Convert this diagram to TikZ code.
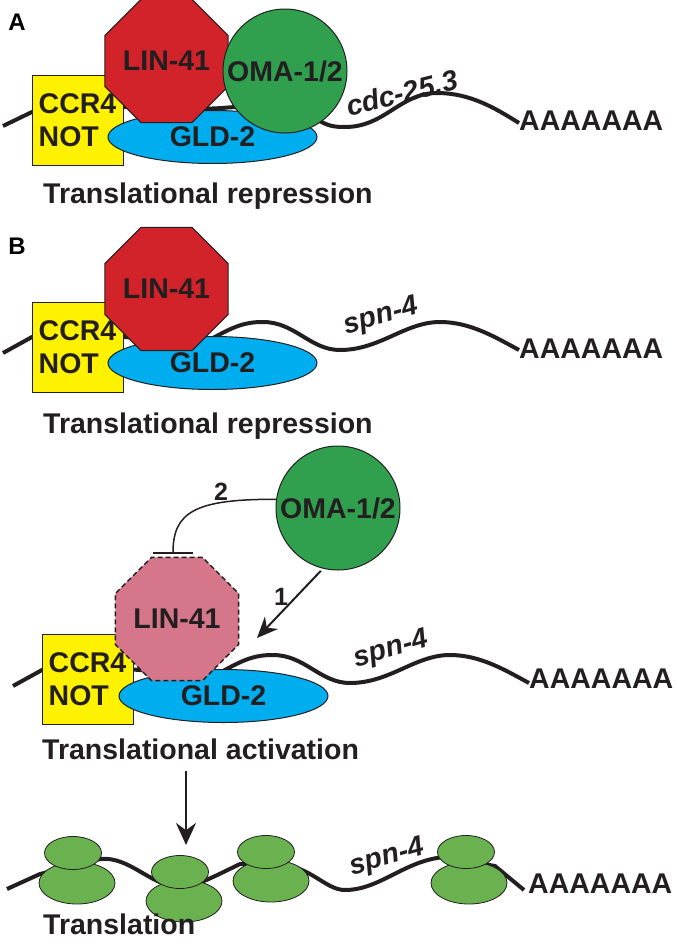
\documentclass[tikz,border=0pt]{standalone}
\usepackage{fontspec}
\setmainfont{Liberation Sans}
\usetikzlibrary{positioning}
\usetikzlibrary{arrows.meta}
\usetikzlibrary{shapes.geometric}

\definecolor{ink}{HTML}{231F20}
\definecolor{ccryellow}{HTML}{FFF200}
\definecolor{linred}{HTML}{D2232A}
\definecolor{linpink}{HTML}{D6768A}
\definecolor{omagreen}{HTML}{30A04F}
\definecolor{gldblue}{HTML}{00AEEF}
\definecolor{ribogreen}{HTML}{6AB24F}

\tikzset{
    lbl/.style={font=\fontsize{28.5}{33}\selectfont\bfseries, text=ink, inner sep=0pt},
    gene/.style={lbl, font=\fontsize{28.5}{33}\selectfont\bfseries\itshape},
    panel/.style={lbl, font=\fontsize{24}{28}\selectfont\bfseries, text=black},
    numlbl/.style={lbl, font=\fontsize{25}{28}\selectfont\bfseries},
    ccrbox/.style={lbl, draw=ink, line width=1pt, fill=ccryellow, minimum width=91pt, minimum height=90pt, align=left},
    gld/.style={lbl, ellipse, draw=ink, line width=1pt, fill=gldblue, minimum width=209pt, minimum height=53pt},
    lin/.style={lbl, regular polygon, regular polygon sides=8, draw=ink, line width=1pt, fill=linred, minimum size=129pt},
    linoff/.style={lin, fill=linpink, line width=1.5pt, dash pattern=on 5pt off 3pt},
    oma/.style={lbl, circle, draw=ink, line width=1pt, fill=omagreen, minimum size=124pt},
    ribotop/.style={ellipse, draw=ink, line width=0.8pt, fill=ribogreen, inner sep=0pt, minimum width=57pt, minimum height=33pt},
    ribobot/.style={ribotop, minimum width=76pt, minimum height=42pt},
    mrna/.style={draw=ink, line width=4pt},
    act/.style={draw=ink, line width=2pt, -{Stealth[length=21pt, width=18pt]}},
    inhib/.style={draw=ink, line width=1.5pt, -{Bar[width=40pt, line width=2pt]}}
}

\begin{document}
\begin{tikzpicture}[x=1pt, y=-1pt]
    \useasboundingbox (0, 0) rectangle (677, 945);

    % A: repression of cdc-25.3
    \node[panel] (pa) at (17, 22) {A};
    \draw[mrna] (3, 126) -- (32, 112) .. controls (100, 100) and (160, 112) .. (222, 108) .. controls (265, 104) and (300, 110) .. (318, 120) .. controls (328, 126) and (334, 127) .. (345, 127) .. controls (385, 127) and (400, 93) .. (437, 93) .. controls (470, 93) and (495, 108) .. (519, 123);
    \node[ccrbox] (ccra) at (77.5, 120) {CCR4\\NOT};
    \node[gld] (glda) at (212.5, 137) {GLD-2};
    \node[lin] (lina) at (166.5, 61) {LIN-41};
    \node[oma] (omaa) at (285, 71) {OMA-1/2};
    \node[gene, rotate=14] (cdca) at (402, 93) {cdc-25.3};
    \node[lbl, anchor=west] (polya) at (519, 121) {AAAAAAA};
    \node[lbl, anchor=base west] (repa) at (43, 203) {Translational repression};

    % B: repression of spn-4
    \node[panel] (pb) at (17, 246) {B};
    \draw[mrna] (3, 353) -- (32, 337) .. controls (100, 330) and (170, 345) .. (213, 338) .. controls (235, 326) and (245, 322) .. (263, 322) .. controls (295, 322) and (310, 350) .. (340, 350) .. controls (380, 350) and (405, 322) .. (440, 322) .. controls (470, 322) and (495, 337) .. (519, 350);
    \node[ccrbox] (ccrb) at (77.5, 347) {CCR4\\NOT};
    \node[gld] (gldb) at (212.5, 363) {GLD-2};
    \node[lin] (linb) at (166.5, 289) {LIN-41};
    \node[gene, rotate=16] (spnb) at (381, 317) {spn-4};
    \node[lbl, anchor=west] (polyb) at (519, 349) {AAAAAAA};
    \node[lbl, anchor=base west] (repb) at (43, 433) {Translational repression};

    % activation
    \draw[mrna] (13, 686) -- (42, 670) .. controls (110, 662) and (180, 678) .. (223, 671) .. controls (245, 659) and (255, 655) .. (273, 655) .. controls (305, 655) and (320, 683) .. (350, 683) .. controls (390, 683) and (415, 655) .. (450, 655) .. controls (480, 655) and (505, 670) .. (529, 683);
    \node[ccrbox] (ccrc) at (87.5, 679) {CCR4\\NOT};
    \node[gld] (gldc) at (223.5, 696) {GLD-2};
    \node[linoff] (linc) at (177, 619) {LIN-41};
    \node[oma] (omac) at (338, 508) {OMA-1/2};
    \node[gene, rotate=16] (spnc) at (391, 650) {spn-4};
    \node[lbl, anchor=west] (polyc) at (529, 679) {AAAAAAA};
    \node[lbl, anchor=base west] (actc) at (42, 759) {Translational activation};

    \coordinate (bar) at (173, 554);
    \coordinate (tip) at (257, 638);
    \draw[inhib] (omac.172) .. controls (195, 499) and (173, 512) .. (bar);
    \draw[act, shorten <=3pt] (omac.256) -- (tip);
    \node[numlbl] (two) at (221, 492) {2};
    \node[numlbl] (one) at (281, 597) {1};

    \coordinate (down) at (186, 771);
    \coordinate (ribo) at (186, 845);
    \draw[act, -{Stealth[length=22pt, width=20pt]}] (down) -- (ribo);

    % translation
    \draw[mrna] (7, 889) -- (40, 874) -- (100, 859) .. controls (130, 856) and (150, 886) .. (180, 887) .. controls (195, 887) and (215, 876) .. (240, 864) -- (290, 866) .. controls (315, 872) and (328, 890) .. (345, 890) .. controls (380, 890) and (405, 860) .. (445, 857) -- (495, 866) -- (524, 890);
    \node[ribobot] (r1b) at (77, 883) {};
    \node[ribotop] (r1t) at (73, 853) {};
    \node[ribobot] (r2b) at (184, 901) {};
    \node[ribotop] (r2t) at (180, 872) {};
    \node[ribobot] (r3b) at (271, 881) {};
    \node[ribotop] (r3t) at (266, 852) {};
    \node[ribobot] (r4b) at (469, 883) {};
    \node[ribotop] (r4t) at (466, 852) {};
    \node[gene, rotate=16] (spnd) at (387, 858) {spn-4};
    \node[lbl, anchor=west] (polyd) at (528, 884) {AAAAAAA};
    \node[lbl, anchor=base west] (trl) at (43, 934) {Translation};
\end{tikzpicture}
\end{document}
